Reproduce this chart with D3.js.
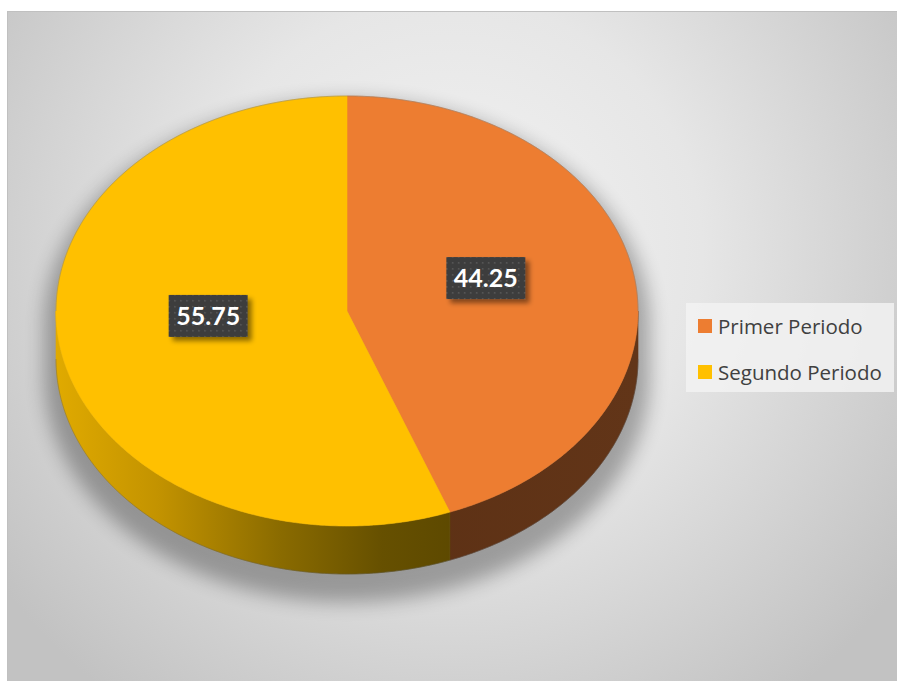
<!DOCTYPE html>
<html>
<head>
<meta charset="utf-8">
<script src="https://cdn.jsdelivr.net/npm/d3@7"></script>
<style>
  html, body { margin: 0; padding: 0; background: #ffffff; }
  svg { display: block; }
</style>
</head>
<body>
<svg id="chart" width="897" height="681"></svg>
<script>
// Data
const categories = ["Primer Periodo", "Segundo Periodo"];
const values = [44.25, 55.75];
const topColors = ["#ED7D31", "#FFC000"];

const W = 897, H = 681;
const svg = d3.select("#chart");
const defs = svg.append("defs");

// Pie geometry (tilted disc)
const cx = 347, cy = 311, rx = 291, ry = 215, depth = 48;

// Background radial gradient of the chart area
const bg = defs.append("radialGradient").attr("id", "bgGrad")
  .attr("gradientUnits", "userSpaceOnUse")
  .attr("cx", 450).attr("cy", 250).attr("r", 560);
bg.append("stop").attr("offset", "0%").attr("stop-color", "#f3f3f3");
bg.append("stop").attr("offset", "45%").attr("stop-color", "#e6e6e6");
bg.append("stop").attr("offset", "100%").attr("stop-color", "#c2c2c2");

svg.append("rect").attr("x", 7.5).attr("y", 11.5).attr("width", W - 7).attr("height", H - 11)
  .attr("fill", "url(#bgGrad)").attr("stroke", "#c0c0c0").attr("stroke-width", 1);

// Soft shadow filters
const blur = defs.append("filter").attr("id", "softShadow")
  .attr("x", "-20%").attr("y", "-20%").attr("width", "140%").attr("height", "140%");
blur.append("feGaussianBlur").attr("stdDeviation", 9);

const boxShadow = defs.append("filter").attr("id", "boxShadow")
  .attr("x", "-20%").attr("y", "-30%").attr("width", "150%").attr("height", "170%");
boxShadow.append("feDropShadow").attr("dx", 4).attr("dy", 4).attr("stdDeviation", 2.5)
  .attr("flood-color", "#000").attr("flood-opacity", 0.45);

// Dotted dark pattern for data-label boxes
const pat = defs.append("pattern").attr("id", "dots")
  .attr("patternUnits", "userSpaceOnUse").attr("width", 6).attr("height", 6);
pat.append("rect").attr("width", 6).attr("height", 6).attr("fill", "#3d3d3d");
pat.append("rect").attr("x", 2).attr("y", 2).attr("width", 1.6).attr("height", 1.6).attr("fill", "#575757");

// Side wall gradients
const ySide = defs.append("linearGradient").attr("id", "sideYellow")
  .attr("gradientUnits", "userSpaceOnUse")
  .attr("x1", cx - rx).attr("y1", 0).attr("x2", cx + rx * 0.4).attr("y2", 0);
ySide.append("stop").attr("offset", "0%").attr("stop-color", "#e0aa00");
ySide.append("stop").attr("offset", "25%").attr("stop-color", "#c39300");
ySide.append("stop").attr("offset", "55%").attr("stop-color", "#8a6b00");
ySide.append("stop").attr("offset", "80%").attr("stop-color", "#665000");
ySide.append("stop").attr("offset", "100%").attr("stop-color", "#5c4800");

const oSide = defs.append("linearGradient").attr("id", "sideOrange")
  .attr("gradientUnits", "userSpaceOnUse")
  .attr("x1", cx).attr("y1", 0).attr("x2", cx + rx).attr("y2", 0);
oSide.append("stop").attr("offset", "0%").attr("stop-color", "#5c3014");
oSide.append("stop").attr("offset", "100%").attr("stop-color", "#623518");
const sideFills = ["url(#sideOrange)", "url(#sideYellow)"];

// Angle -> point on the tilted ellipse (0 = 12 o'clock, clockwise)
const pt = (a, dy = 0) => [cx + rx * Math.sin(a), cy - ry * Math.cos(a) + dy];

function arcPoints(a0, a1, dy = 0) {
  const n = Math.max(2, Math.ceil(Math.abs(a1 - a0) / 0.01));
  return d3.range(n + 1).map(i => pt(a0 + (a1 - a0) * i / n, dy));
}

const pie = d3.pie().sort(null).value(d => d)(values);

// Shadow under the disc
const outline = arcPoints(Math.PI / 2, 3 * Math.PI / 2, depth)
  .concat(arcPoints(3 * Math.PI / 2, 5 * Math.PI / 2, 0));
const line = d3.line();
svg.append("path")
  .attr("d", line(outline) + "Z")
  .attr("transform", `translate(${cx},${cy + 15}) scale(1.04,1.05) translate(${-cx},${-cy})`)
  .attr("fill", "#000").attr("opacity", 0.3)
  .attr("filter", "url(#softShadow)");

// Side walls (front half only, angles between 90° and 270°)
pie.forEach((p, i) => {
  const a0 = Math.max(p.startAngle, Math.PI / 2);
  const a1 = Math.min(p.endAngle, 3 * Math.PI / 2);
  if (a1 <= a0) return;
  const topEdge = arcPoints(a0, a1, 0);
  const botEdge = arcPoints(a1, a0, depth);
  svg.append("path")
    .attr("d", line(topEdge.concat(botEdge)) + "Z")
    .attr("fill", sideFills[i])
    .attr("stroke", sideFills[i]).attr("stroke-width", 0.6);
});

// Top faces
pie.forEach((p, i) => {
  const pts = [[cx, cy]].concat(arcPoints(p.startAngle, p.endAngle, 0));
  svg.append("path")
    .attr("d", line(pts) + "Z")
    .attr("fill", topColors[i])
    .attr("stroke", topColors[i]).attr("stroke-width", 0.6);
});

// Faint rims along the disc edges
svg.append("path")
  .attr("d", line(arcPoints(-Math.PI / 2, Math.PI / 2, 0)))
  .attr("fill", "none").attr("stroke", "#7f7f7f").attr("stroke-opacity", 0.45).attr("stroke-width", 1);
svg.append("path")
  .attr("d", line(arcPoints(Math.PI / 2, 3 * Math.PI / 2, depth)))
  .attr("fill", "none").attr("stroke", "#555").attr("stroke-opacity", 0.35).attr("stroke-width", 1);

// Data labels
const fmt = d3.format(".2f");
pie.forEach((p, i) => {
  const mid = (p.startAngle + p.endAngle) / 2;
  const [lx, ly0] = pt(mid);
  const x = cx + (lx - cx) * 0.485;
  const y = cy + (ly0 - cy) * 0.49 - 14;
  const g = svg.append("g").attr("transform", `translate(${x},${y})`);
  const bw = 79, bh = 42;
  g.append("rect").attr("x", -bw / 2).attr("y", -bh / 2).attr("width", bw).attr("height", bh)
    .attr("fill", "url(#dots)").attr("filter", "url(#boxShadow)");
  g.append("text").attr("x", 0).attr("y", 9)
    .attr("text-anchor", "middle")
    .attr("font-family", "Lato, 'Open Sans', sans-serif")
    .attr("font-weight", 700).attr("font-size", 25)
    .attr("fill", "#ffffff")
    .text(fmt(values[i]));
});

// Legend
const legend = svg.append("g");
legend.append("rect").attr("x", 686).attr("y", 303).attr("width", 208).attr("height", 89)
  .attr("fill", "#f2f2f2").attr("opacity", 0.85);
categories.forEach((c, i) => {
  const y = 326 + i * 46;
  legend.append("rect").attr("x", 698).attr("y", y - 7).attr("width", 14).attr("height", 14)
    .attr("fill", topColors[i]);
  legend.append("text").attr("x", 718).attr("y", y + 7.5)
    .attr("font-family", "'Open Sans', Lato, sans-serif")
    .attr("font-size", 20.5).attr("fill", "#404040")
    .text(c);
});
</script>
</body>
</html>
